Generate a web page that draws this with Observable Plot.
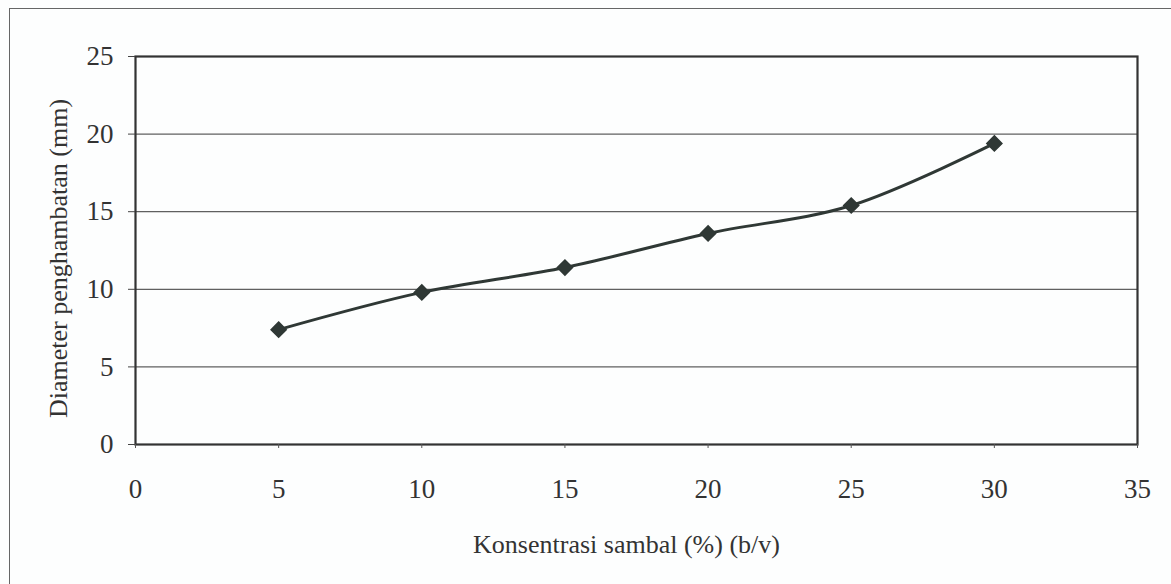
<!DOCTYPE html>
<html>
<head>
<meta charset="utf-8">
<script src="https://cdn.jsdelivr.net/npm/d3@7"></script>
<script src="https://cdn.jsdelivr.net/npm/@observablehq/plot@0.6"></script>
<style>
  html, body { margin: 0; padding: 0; background: #fdfefe; }
  #wrap { position: relative; width: 1171px; height: 584px; overflow: hidden; }
  #border { position: absolute; left: 9px; top: 8px; width: 1180px; height: 600px; border: 1.5px solid #666; box-sizing: border-box; }
  #chart { position: absolute; left: 0; top: 0; }
</style>
</head>
<body>
<div id="wrap"><div id="border"></div><div id="chart"></div></div>
<script>
const konsentrasi = [5, 10, 15, 20, 25, 30];
const diameter = [7.4, 9.8, 11.4, 13.6, 15.4, 19.4];
const xTicks = [0, 5, 10, 15, 20, 25, 30, 35];
const yTicks = [0, 5, 10, 15, 20, 25];
const xLabel = "Konsentrasi sambal (%) (b/v)";
const yLabel = "Diameter penghambatan (mm)";

const data = konsentrasi.map((k, i) => ({k, d: diameter[i]}));
const ink = "#2f3835";
const font = "'Liberation Serif', 'DejaVu Serif', serif";

const chart = Plot.plot({
  width: 1171,
  height: 584,
  marginLeft: 135,
  marginRight: 34,
  marginTop: 56,
  marginBottom: 140,
  style: {fontFamily: font, fontSize: "26px", color: "#333", background: "transparent"},
  x: {domain: [0, 35], ticks: xTicks},
  y: {domain: [0, 25], ticks: yTicks},
  marks: [
    Plot.gridY(yTicks, {stroke: "#444", strokeOpacity: 0.85, strokeWidth: 1.2}),
    Plot.frame({stroke: "#333", strokeWidth: 2.2}),
    Plot.line(data, {x: "k", y: "d", stroke: ink, strokeWidth: 3, curve: "catmull-rom"}),
    Plot.dot(data, {x: "k", y: "d", symbol: "diamond2", r: 6.8, fill: ink, stroke: ink}),
    Plot.axisX({ticks: xTicks, tickSize: 4, tickPadding: 30, stroke: "#555", fill: "#333",
      fontSize: 27, fontFamily: font, label: null}),
    Plot.axisY({ticks: yTicks, tickSize: 7, tickPadding: 15, stroke: "#444", fill: "#333",
      fontSize: 27, fontFamily: font, label: null}),
    Plot.text([xLabel], {frameAnchor: "bottom", textAnchor: "middle", lineAnchor: "bottom", dx: -10, dy: 108,
      fontSize: 26, fontFamily: font, fill: "#333"}),
    Plot.text([yLabel], {frameAnchor: "left", rotate: -90, textAnchor: "middle", lineAnchor: "top", dx: -87, dy: 8,
      fontSize: 26, fontFamily: font, fill: "#333"})
  ]
});
document.getElementById("chart").appendChild(chart);
</script>
</body>
</html>
